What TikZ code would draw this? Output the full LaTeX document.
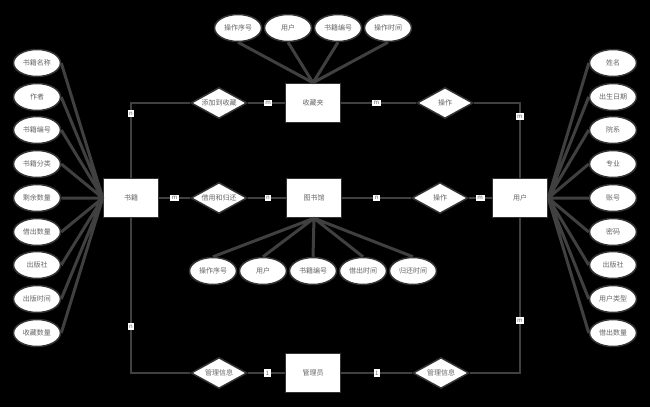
\documentclass[tikz,border=0pt]{standalone}
\usepackage{fontspec}
\newfontfamily\cjk{Noto Sans CJK SC}
\usetikzlibrary{shapes.geometric}

\begin{document}
\begin{tikzpicture}[x=1pt,y=-1pt,font=\cjk\fontsize{7}{8}\selectfont,
  entity/.style={rectangle,draw=black!80,fill=white,line width=1.5pt,minimum width=55pt,minimum height=39pt,text=black!60},
  relation/.style={diamond,aspect=2,draw=black!80,fill=white,line width=1.5pt,inner sep=0pt,minimum width=56pt,minimum height=31pt,text=black!60},
  attr/.style={ellipse,draw=black!80,fill=white,line width=1.5pt,inner sep=0pt,minimum width=47pt,minimum height=27pt,text=black!60},
  conn/.style={draw=black!75,line width=2.5pt},
  link/.style={draw=black!75,line width=3pt},
  card/.style={fill=white,text=black!60,font=\cjk\fontsize{6}{6}\selectfont,inner sep=1.5pt}]

  \fill[black] (0,0) rectangle (650,407);
  \useasboundingbox (0,0) rectangle (650,407);

  % entities
  \node[entity] (shuji) at (131,198) {书籍};
  \node[entity] (shoucang) at (313,103) {收藏夹};
  \node[entity] (tushu) at (314,198) {图书馆};
  \node[entity] (yonghu) at (520,198) {用户};
  \node[entity] (guanliyuan) at (313,373) {管理员};

  % relations
  \node[relation] (tianjia) at (219,103) {添加到收藏};
  \node[relation] (caozuoA) at (445,103) {操作};
  \node[relation] (jieyong) at (219,198) {借用和归还};
  \node[relation] (caozuoB) at (440,198) {操作};
  \node[relation] (guanliA) at (219,373) {管理信息};
  \node[relation] (guanliB) at (441,373) {管理信息};

  % attributes of 书籍
  \node[attr] (s1) at (37,63) {书籍名称};
  \node[attr] (s2) at (37,97) {作者};
  \node[attr] (s3) at (37,130) {书籍编号};
  \node[attr] (s4) at (37,164) {书籍分类};
  \node[attr] (s5) at (37,198) {剩余数量};
  \node[attr] (s6) at (37,232) {借出数量};
  \node[attr] (s7) at (37,265) {出版社};
  \node[attr] (s8) at (37,299) {出版时间};
  \node[attr] (s9) at (37,333) {收藏数量};

  % attributes of 用户
  \node[attr] (u1) at (613,63) {姓名};
  \node[attr] (u2) at (613,97) {出生日期};
  \node[attr] (u3) at (613,130) {院系};
  \node[attr] (u4) at (613,164) {专业};
  \node[attr] (u5) at (613,198) {账号};
  \node[attr] (u6) at (613,232) {密码};
  \node[attr] (u7) at (613,265) {出版社};
  \node[attr] (u8) at (613,299) {用户类型};
  \node[attr] (u9) at (613,333) {借出数量};

  % attributes of 收藏夹
  \node[attr] (c1) at (238,28) {操作序号};
  \node[attr] (c2) at (288,28) {用户};
  \node[attr] (c3) at (338,28) {书籍编号};
  \node[attr] (c4) at (388,28) {操作时间};

  % attributes of 图书馆
  \node[attr] (t1) at (213,271) {操作序号};
  \node[attr] (t2) at (263,271) {用户};
  \node[attr] (t3) at (313,271) {书籍编号};
  \node[attr] (t4) at (363,271) {借出时间};
  \node[attr] (t5) at (413,271) {归还时间};

  \draw[link] (s1.east) -- (shuji.west) (s2.east) -- (shuji.west) (s3.east) -- (shuji.west)
    (s4.east) -- (shuji.west) (s5.east) -- (shuji.west) (s6.east) -- (shuji.west)
    (s7.east) -- (shuji.west) (s8.east) -- (shuji.west) (s9.east) -- (shuji.west);
  \draw[link] (u1.west) -- (yonghu.east) (u2.west) -- (yonghu.east) (u3.west) -- (yonghu.east)
    (u4.west) -- (yonghu.east) (u5.west) -- (yonghu.east) (u6.west) -- (yonghu.east)
    (u7.west) -- (yonghu.east) (u8.west) -- (yonghu.east) (u9.west) -- (yonghu.east);
  \draw[link] (c1.south) -- (shoucang.north) (c2.south) -- (shoucang.north)
    (c3.south) -- (shoucang.north) (c4.south) -- (shoucang.north);
  \draw[link] (t1.north) -- (tushu.south) (t2.north) -- (tushu.south) (t3.north) -- (tushu.south)
    (t4.north) -- (tushu.south) (t5.north) -- (tushu.south);

  % relationships
  \draw[conn] (shuji) |- node[card,pos=0.43] {n} (tianjia);
  \draw[conn] (tianjia) -- node[card,pos=0.55] {m} (shoucang);
  \draw[conn] (shoucang) -- node[card,pos=0.47] {m} (caozuoA);
  \draw[conn] (caozuoA) -| node[card,pos=0.59] {m} (yonghu);
  \draw[conn] (shuji) -- node[card] {m} (jieyong);
  \draw[conn] (jieyong) -- node[card,pos=0.53] {n} (tushu);
  \draw[conn] (tushu) -- node[card] {n} (caozuoB);
  \draw[conn] (caozuoB) -- node[card] {m} (yonghu);
  \draw[conn] (shuji) |- node[card,pos=0.35] {n} (guanliA);
  \draw[conn] (guanliA) -- node[card,pos=0.53] {1} (guanliyuan);
  \draw[conn] (guanliyuan) -- node[card] {1} (guanliB);
  \draw[conn] (guanliB) -| node[card,pos=0.67] {m} (yonghu);

\end{tikzpicture}
\end{document}
